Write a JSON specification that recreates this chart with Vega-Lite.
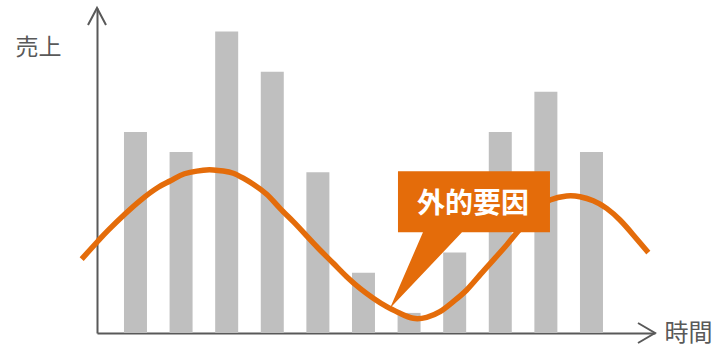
{
  "$schema": "https://vega.github.io/schema/vega-lite/v6.json",
  "width": 558,
  "height": 325,
  "autosize": {"type": "none"},
  "padding": {"left": 97, "top": 8, "right": 60, "bottom": 14},
  "background": "#ffffff",
  "config": {"view": {"stroke": null}, "font": "Noto Sans CJK JP"},
  "datasets": {
    "sales": [
      {"t": 1, "sales": 10}, {"t": 2, "sales": 9}, {"t": 3, "sales": 15},
      {"t": 4, "sales": 13}, {"t": 5, "sales": 8}, {"t": 6, "sales": 3},
      {"t": 7, "sales": 1}, {"t": 8, "sales": 4}, {"t": 9, "sales": 10},
      {"t": 10, "sales": 12}, {"t": 11, "sales": 9}
    ],
    "factor": [
      {"t": -0.180, "v": 3.68}, {"t": 0.184, "v": 4.59}, {"t": 0.404, "v": 5.12},
      {"t": 0.770, "v": 5.92}, {"t": 1.136, "v": 6.65}, {"t": 1.500, "v": 7.25},
      {"t": 1.757, "v": 7.56}, {"t": 1.976, "v": 7.83}, {"t": 2.195, "v": 7.99},
      {"t": 2.487, "v": 8.10}, {"t": 2.706, "v": 8.11}, {"t": 2.925, "v": 8.06},
      {"t": 3.145, "v": 7.95}, {"t": 3.364, "v": 7.70}, {"t": 3.583, "v": 7.40},
      {"t": 3.877, "v": 6.90}, {"t": 4.169, "v": 6.20},
      {"t": 4.461, "v": 5.54}, {"t": 4.754, "v": 4.83}, {"t": 5.046, "v": 4.13},
      {"t": 5.338, "v": 3.47}, {"t": 5.632, "v": 2.80}, {"t": 5.923, "v": 2.22},
      {"t": 6.215, "v": 1.73}, {"t": 6.509, "v": 1.31}, {"t": 6.800, "v": 0.98},
      {"t": 7.092, "v": 0.73}, {"t": 7.386, "v": 0.78}, {"t": 7.678, "v": 1.06},
      {"t": 7.969, "v": 1.56}, {"t": 8.263, "v": 2.14}, {"t": 8.555, "v": 2.89},
      {"t": 8.846, "v": 3.63}, {"t": 9.140, "v": 4.38}, {"t": 9.322, "v": 4.88},
      {"t": 9.651, "v": 5.72}, {"t": 9.871, "v": 6.27}, {"t": 10.090, "v": 6.62},
      {"t": 10.456, "v": 6.82}, {"t": 10.748, "v": 6.78}, {"t": 11.039, "v": 6.58},
      {"t": 11.333, "v": 6.20}, {"t": 11.625, "v": 5.62}, {"t": 11.917, "v": 4.88},
      {"t": 12.246, "v": 4.00}
    ],
    "note": [{"t": 6.581, "v": 1.229, "label": "外的要因"}]
  },
  "layer": [
    {
      "data": {"name": "sales"},
      "mark": {"type": "bar", "width": 23, "color": "#bfbfbf"},
      "encoding": {
        "x": {
          "field": "t", "type": "quantitative",
          "scale": {"domain": [0.156, 12.393], "nice": false, "zero": false, "padding": 0},
          "axis": {
            "title": "時間", "labels": false, "ticks": false, "grid": false,
            "domainColor": "#595959", "domainWidth": 2,
            "titleX": 591, "titleY": 0, "titleAlign": "center", "titleBaseline": "middle",
            "titleFontSize": 24, "titleFontWeight": "normal", "titleColor": "#595959",
            "titleFont": "Noto Sans CJK JP"
          }
        },
        "y": {
          "field": "sales", "type": "quantitative",
          "scale": {"domain": [0, 16.17], "nice": false},
          "axis": {
            "title": "売上", "labels": false, "ticks": false, "grid": false,
            "domainColor": "#595959", "domainWidth": 2,
            "titleAngle": 0, "titleX": -59, "titleY": 39, "titleAlign": "center", "titleBaseline": "middle",
            "titleFontSize": 23, "titleFontWeight": "normal", "titleColor": "#595959",
            "titleFont": "Noto Sans CJK JP"
          }
        }
      }
    },
    {
      "data": {"name": "factor"},
      "mark": {"type": "line", "color": "#e46c0a", "strokeWidth": 5.5, "interpolate": "natural", "strokeCap": "butt"},
      "encoding": {
        "x": {"field": "t", "type": "quantitative"},
        "y": {"field": "v", "type": "quantitative"}
      }
    },
    {
      "data": {"name": "note"},
      "mark": {
        "type": "point", "filled": true, "opacity": 1, "size": 4, "color": "#e46c0a", "strokeWidth": 0,
        "shape": "M0,0L33,-76L8,-76L8,-137L160,-137L160,-76L72,-76Z"
      },
      "encoding": {
        "x": {"field": "t", "type": "quantitative"},
        "y": {"field": "v", "type": "quantitative"}
      }
    },
    {
      "data": {"name": "note"},
      "mark": {
        "type": "text", "color": "#ffffff", "fontSize": 28, "fontWeight": "bold",
        "font": "Noto Sans CJK JP", "align": "center", "baseline": "middle", "dx": 83, "dy": -103
      },
      "encoding": {
        "x": {"field": "t", "type": "quantitative"},
        "y": {"field": "v", "type": "quantitative"},
        "text": {"field": "label"}
      }
    },
    {
      "data": {"values": [{}]},
      "mark": {
        "type": "point", "filled": false, "opacity": 1, "size": 4, "color": "#595959", "strokeWidth": 2,
        "shape": "M-9,17L0,0L9,17"
      },
      "encoding": {
        "x": {"datum": 0.156, "type": "quantitative"},
        "y": {"datum": 16.17, "type": "quantitative"}
      }
    },
    {
      "data": {"values": [{}]},
      "mark": {
        "type": "point", "filled": false, "opacity": 1, "size": 4, "color": "#595959", "strokeWidth": 2,
        "shape": "M-17,-10L0,0L-17,10"
      },
      "encoding": {
        "x": {"datum": 12.393, "type": "quantitative"},
        "y": {"datum": 0, "type": "quantitative"}
      }
    }
  ]
}
